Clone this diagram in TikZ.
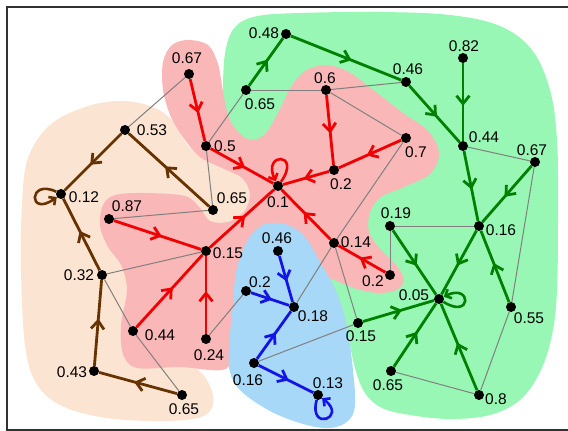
\documentclass[tikz,border=0pt]{standalone}
\usepackage{fontspec}
\setmainfont{Liberation Sans}
\usetikzlibrary{arrows.meta,decorations.markings}
\definecolor{cpeach}{RGB}{252,228,210}
\definecolor{cpink}{RGB}{249,183,183}
\definecolor{cgreen}{RGB}{152,247,180}
\definecolor{cblue}{RGB}{168,216,247}
\definecolor{ebrown}{RGB}{102,51,0}
\definecolor{ered}{RGB}{240,0,0}
\definecolor{egreen}{RGB}{0,128,0}
\definecolor{eblue}{RGB}{20,20,230}
\definecolor{egray}{RGB}{128,128,128}
\definecolor{cframe}{RGB}{50,50,50}
\begin{document}
\begin{tikzpicture}[x=1pt,y=-1pt,
  dot/.style={circle,fill=black,inner sep=0pt,minimum size=10pt},
  lbl/.style={font=\fontsize{15.5}{18}\selectfont,inner sep=0pt},
  gl/.style={draw=egray,line width=1pt},
  ar/.style={line width=2.8pt,color=#1,postaction={decorate},
    decoration={markings,mark=at position 0.55 with {\arrow{Straight Barb[length=8pt,width=13pt]}}}},
  lp/.style={line width=2.6pt,color=#1,-{Straight Barb[length=5pt,width=10pt]}}]
\useasboundingbox (0,0) rectangle (568,431);
% regions
\fill[cpeach] plot[smooth cycle,tension=0.6] coordinates {(22,205) (28,158) (50,125) (85,107) (120,101) (150,106) (172,120) (190,148) (215,163) (240,176) (251,194) (244,213) (226,223) (205,226) (190,260) (195,330) (193,362) (205,377) (213,395) (210,411) (193,419) (150,421) (100,417) (60,405) (36,383) (25,345) (21,270)};
\fill[cgreen] plot[smooth cycle,tension=0.6] coordinates {(225,125) (223,85) (226,48) (236,26) (258,16) (300,13) (380,12) (450,15) (500,26) (532,50) (550,90) (557,140) (558,210) (557,290) (552,335) (540,372) (520,400) (490,415) (450,419) (410,415) (382,408) (365,393) (355,368) (348,335) (340,302) (326,278) (315,255) (305,200) (285,155) (255,145) (235,138)};
\fill[cpink] plot[smooth cycle,tension=0.55] coordinates {(188,40) (208,45) (218,64) (223,92) (229,118) (240,134) (253,140) (266,133) (279,111) (291,87) (305,71) (325,65) (347,71) (372,89) (403,113) (428,131) (439,153) (430,174) (404,187) (381,197) (370,212) (369,232) (381,250) (396,265) (404,280) (396,290) (378,293) (357,289) (337,281) (320,272) (300,240) (270,235) (245,255) (236,300) (232,355) (222,370) (180,367) (137,368) (123,354) (121,325) (127,290) (121,265) (108,247) (100,226) (103,205) (115,195) (145,193) (185,196) (200,208) (210,221) (228,222) (244,212) (250,194) (242,178) (222,168) (200,157) (185,140) (171,117) (163,90) (163,62) (172,45)};
\fill[cblue] plot[smooth cycle,tension=0.6] coordinates {(270,223) (288,225) (305,237) (320,262) (337,293) (347,327) (353,370) (355,405) (348,421) (330,428) (303,424) (270,411) (241,391) (230,372) (229,345) (233,305) (236,272) (246,243) (258,228)};
% frame
\draw[cframe,line width=1.6pt] (568,7) -- (7,7) -- (7,430) -- (568,430);
% nodes
\node[dot] (b012) at (61,194) {};
\node[dot] (b053) at (125,130) {};
\node[dot] (b065a) at (213,210) {};
\node[dot] (b032) at (102,275) {};
\node[dot] (b043) at (94,371) {};
\node[dot] (b065b) at (182,395) {};
\node[dot] (r067) at (189,74) {};
\node[dot] (r05) at (206,146) {};
\node[dot] (r01) at (278,186) {};
\node[dot] (r06) at (326,90) {};
\node[dot] (r07) at (406,138) {};
\node[dot] (r02) at (334,170) {};
\node[dot] (r087) at (109,219) {};
\node[dot] (r015) at (206,251) {};
\node[dot] (r044) at (133,331) {};
\node[dot] (r024) at (206,339) {};
\node[dot] (r014) at (334,243) {};
\node[dot] (r02b) at (390,275) {};
\node[dot] (g048) at (286,34) {};
\node[dot] (g065) at (246,90) {};
\node[dot] (g046) at (406,82) {};
\node[dot] (g082) at (463,58) {};
\node[dot] (g044) at (463,146) {};
\node[dot] (g067) at (535,162) {};
\node[dot] (g019) at (390,226) {};
\node[dot] (g016) at (479,226) {};
\node[dot] (g005) at (439,299) {};
\node[dot] (g055) at (511,307) {};
\node[dot] (g015) at (358,323) {};
\node[dot] (g065b) at (391,371) {};
\node[dot] (g08) at (479,395) {};
\node[dot] (bl046) at (278,251) {};
\node[dot] (bl02) at (246,291) {};
\node[dot] (bl018) at (294,307) {};
\node[dot] (bl016) at (254,363) {};
\node[dot] (bl013) at (318,395) {};
% labels
\node[lbl] (t01) at (84,197) {0.12};
\node[lbl] (t02) at (152,130) {0.53};
\node[lbl] (t03) at (232,198) {0.65};
\node[lbl] (t04) at (79,275) {0.32};
\node[lbl] (t05) at (72,372) {0.43};
\node[lbl] (t06) at (184,409) {0.65};
\node[lbl] (t07) at (187,58) {0.67};
\node[lbl] (t08) at (225,146) {0.5};
\node[lbl] (t09) at (278,202) {0.1};
\node[lbl] (t10) at (325,78) {0.6};
\node[lbl] (t11) at (416,152) {0.7};
\node[lbl] (t12) at (341,184) {0.2};
\node[lbl] (t13) at (127,206) {0.87};
\node[lbl] (t14) at (228,253) {0.15};
\node[lbl] (t15) at (160,335) {0.44};
\node[lbl] (t16) at (209,355) {0.24};
\node[lbl] (t17) at (356,242) {0.14};
\node[lbl] (t18) at (373,281) {0.2};
\node[lbl] (t19) at (264,33) {0.48};
\node[lbl] (t20) at (260,104) {0.65};
\node[lbl] (t21) at (408,69) {0.46};
\node[lbl] (t22) at (464,46) {0.82};
\node[lbl] (t23) at (484,137) {0.44};
\node[lbl] (t24) at (532,150) {0.67};
\node[lbl] (t25) at (396,213) {0.19};
\node[lbl] (t26) at (501,230) {0.16};
\node[lbl] (t27) at (414,295) {0.05};
\node[lbl] (t28) at (529,318) {0.55};
\node[lbl] (t29) at (361,336) {0.15};
\node[lbl] (t30) at (388,385) {0.65};
\node[lbl] (t31) at (496,399) {0.8};
\node[lbl] (t32) at (277,238) {0.46};
\node[lbl] (t33) at (260,282) {0.2};
\node[lbl] (t34) at (313,316) {0.18};
\node[lbl] (t35) at (248,380) {0.16};
\node[lbl] (t36) at (328,383) {0.13};
% gray edges
\draw[gl] (r067) -- (b053);
\draw[gl] (g065) -- (r05);
\draw[gl] (r05) -- (b065a);
\draw[gl] (g065) -- (r06);
\draw[gl] (r06) -- (g046);
\draw[gl] (r06) -- (r07);
\draw[gl] (r07) -- (r014);
\draw[gl] (r014) -- (bl018);
\draw[gl] (r087) -- (b065a);
\draw[gl] (r015) -- (b032);
\draw[gl] (b032) -- (r044);
\draw[gl] (r044) -- (b065b);
\draw[gl] (r024) -- (bl02);
\draw[gl] (bl016) -- (g015);
\draw[gl] (r014) -- (g015);
\draw[gl] (g019) -- (r02b);
\draw[gl] (g019) -- (g016);
\draw[gl] (g044) -- (g067);
\draw[gl] (g067) -- (g055);
\draw[gl] (g055) -- (g08);
\draw[gl] (g065b) -- (g08);
% brown
\draw[ar=ebrown] (b053) -- (b012);
\draw[ar=ebrown] (b065a) -- (b053);
\draw[ar=ebrown] (b032) -- (b012);
\draw[ar=ebrown] (b043) -- (b032);
\draw[ar=ebrown] (b065b) -- (b043);
\draw[lp=ebrown] (b012) .. controls (28,178) and (28,218) .. (b012);
% red
\draw[ar=ered] (r067) -- (r05);
\draw[ar=ered] (r05) -- (r01);
\draw[ar=ered] (r06) -- (r02);
\draw[ar=ered] (r07) -- (r02);
\draw[ar=ered] (r02) -- (r01);
\draw[ar=ered] (r087) -- (r015);
\draw[ar=ered] (r015) -- (r01);
\draw[ar=ered] (r044) -- (r015);
\draw[ar=ered] (r024) -- (r015);
\draw[ar=ered] (r014) -- (r01);
\draw[ar=ered] (r02b) -- (r014);
\draw[lp=ered] (r01) .. controls (302,152) and (262,152) .. (r01);
% green
\draw[ar=egreen] (g065) -- (g048);
\draw[ar=egreen] (g048) -- (g046);
\draw[ar=egreen] (g046) -- (g044);
\draw[ar=egreen] (g082) -- (g044);
\draw[ar=egreen] (g044) -- (g016);
\draw[ar=egreen] (g067) -- (g016);
\draw[ar=egreen] (g016) -- (g005);
\draw[ar=egreen] (g019) -- (g005);
\draw[ar=egreen] (g015) -- (g005);
\draw[ar=egreen] (g065b) -- (g005);
\draw[ar=egreen] (g08) -- (g005);
\draw[ar=egreen] (g055) -- (g016);
\draw[lp=egreen] (g005) .. controls (472,320) and (472,283) .. (g005);
% blue
\draw[ar=eblue] (bl046) -- (bl018);
\draw[ar=eblue] (bl02) -- (bl018);
\draw[ar=eblue] (bl016) -- (bl018);
\draw[ar=eblue] (bl016) -- (bl013);
\draw[lp=eblue] (bl013) .. controls (308,432) and (348,418) .. (bl013);
\end{tikzpicture}
\end{document}
